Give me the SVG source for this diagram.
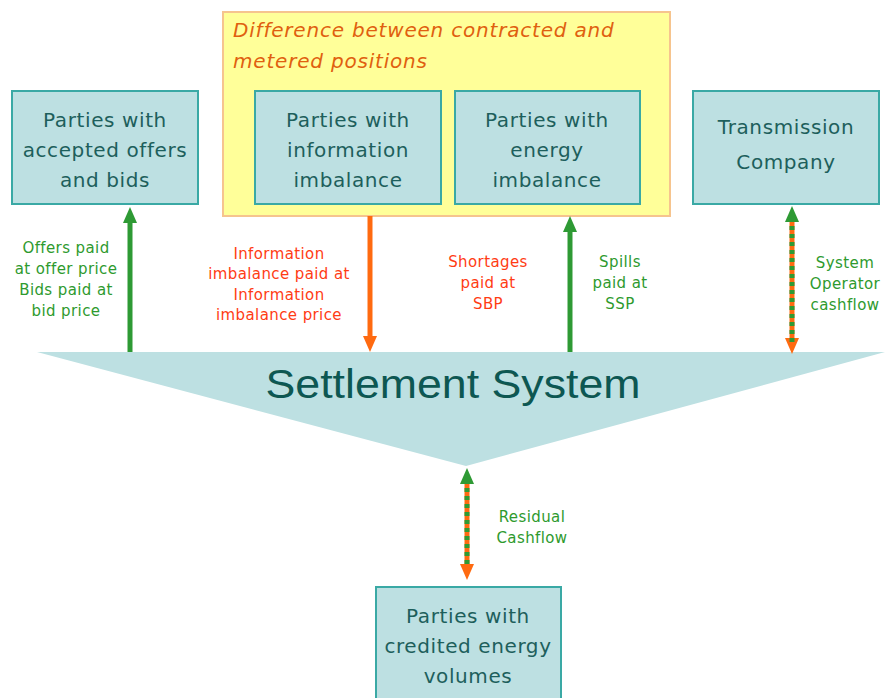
<svg xmlns="http://www.w3.org/2000/svg" width="885" height="698" viewBox="0 0 885 698">
  <style>
    .box { fill: #bde0e2; stroke: #3aa9a5; stroke-width: 2; }
    .btxt { font-family: "DejaVu Sans", Verdana, sans-serif; font-size: 20px; fill: #1d5f5c; text-anchor: middle; letter-spacing: 0.6px; }
    .lbl { font-family: "DejaVu Sans", Verdana, sans-serif; font-size: 15px; text-anchor: middle; letter-spacing: 0.4px; }
    .green { fill: #2e9a2e; }
    .red { fill: #ff3c14; }
    .lineG { stroke: #2e9a34; stroke-width: 5; fill: none; }
    .lineO { stroke: #ff6a10; stroke-width: 5; fill: none; }
    .dots { stroke: #2e9a34; stroke-width: 5; stroke-dasharray: 4 4; fill: none; }
  </style>
  <defs>
    <marker id="headG" viewBox="0 0 16 14" refX="5" refY="7" markerWidth="16" markerHeight="14" markerUnits="userSpaceOnUse" orient="auto-start-reverse">
      <path d="M0,0 L16,7 L0,14 z" fill="#2e9a34"/>
    </marker>
    <marker id="headO" viewBox="0 0 16 14" refX="5" refY="7" markerWidth="16" markerHeight="14" markerUnits="userSpaceOnUse" orient="auto-start-reverse">
      <path d="M0,0 L16,7 L0,14 z" fill="#ff6a10"/>
    </marker>
  </defs>

  <rect width="885" height="698" fill="#ffffff"/>

  <!-- contracted vs metered group -->
  <g id="difference-group">
    <rect x="223" y="12" width="447" height="204" fill="#ffff99" stroke="#f6c48e" stroke-width="2"/>
    <text font-family="'DejaVu Sans', Verdana, sans-serif" font-size="20" font-style="italic" fill="#e0600f" letter-spacing="0.8">
      <tspan x="233" y="37">Difference between contracted and</tspan>
      <tspan x="233" y="68">metered positions</tspan>
    </text>
  </g>

  <g id="accepted-offers">
    <rect class="box" x="12" y="91" width="186" height="113"/>
    <text class="btxt"><tspan x="105" y="127">Parties with</tspan><tspan x="105" y="157">accepted offers</tspan><tspan x="105" y="187">and bids</tspan></text>
  </g>

  <g id="information-imbalance">
    <rect class="box" x="255" y="91" width="186" height="113"/>
    <text class="btxt"><tspan x="348" y="127">Parties with</tspan><tspan x="348" y="157">information</tspan><tspan x="348" y="187">imbalance</tspan></text>
  </g>

  <g id="energy-imbalance">
    <rect class="box" x="455" y="91" width="185" height="113"/>
    <text class="btxt"><tspan x="547" y="127">Parties with</tspan><tspan x="547" y="157">energy</tspan><tspan x="547" y="187">imbalance</tspan></text>
  </g>

  <g id="transmission-company">
    <rect class="box" x="693" y="91" width="186" height="113"/>
    <text class="btxt"><tspan x="786" y="134">Transmission</tspan><tspan x="786" y="169">Company</tspan></text>
  </g>

  <g id="credited-volumes">
    <rect class="box" x="376" y="587" width="185" height="120"/>
    <text class="btxt"><tspan x="468" y="623">Parties with</tspan><tspan x="468" y="653">credited energy</tspan><tspan x="468" y="683">volumes</tspan></text>
  </g>

  <g id="settlement-system">
    <polygon points="37,352 885,352 466,466" fill="#bde0e2"/>
    <text x="453" y="398" font-family="'Liberation Sans', Arial, sans-serif" font-size="41" fill="#0d5752" text-anchor="middle" textLength="375" lengthAdjust="spacingAndGlyphs">Settlement System</text>
  </g>

  <g id="connectors">
    <line class="lineG" x1="130" y1="352" x2="130" y2="218" marker-end="url(#headG)"/>
    <line class="lineO" x1="370" y1="216" x2="370" y2="341" marker-end="url(#headO)"/>
    <line class="lineG" x1="570" y1="352" x2="570" y2="227" marker-end="url(#headG)"/>
    <line class="lineO" x1="792" y1="217" x2="792" y2="343" marker-start="url(#headG)" marker-end="url(#headO)"/>
    <line class="dots" x1="792" y1="218" x2="792" y2="342"/>
    <line class="lineO" x1="467" y1="479" x2="467" y2="569" marker-start="url(#headG)" marker-end="url(#headO)"/>
    <line class="dots" x1="467" y1="480" x2="467" y2="568"/>

    <text class="lbl green"><tspan x="66" y="253">Offers paid</tspan><tspan x="66" y="274">at offer price</tspan><tspan x="66" y="295">Bids paid at</tspan><tspan x="66" y="316">bid price</tspan></text>
    <text class="lbl red"><tspan x="279" y="259">Information</tspan><tspan x="279" y="279">imbalance paid at</tspan><tspan x="279" y="300">Information</tspan><tspan x="279" y="320">imbalance price</tspan></text>
    <text class="lbl red"><tspan x="488" y="267">Shortages</tspan><tspan x="488" y="288">paid at</tspan><tspan x="488" y="309">SBP</tspan></text>
    <text class="lbl green"><tspan x="620" y="267">Spills</tspan><tspan x="620" y="288">paid at</tspan><tspan x="620" y="309">SSP</tspan></text>
    <text class="lbl green"><tspan x="845" y="268">System</tspan><tspan x="845" y="289">Operator</tspan><tspan x="845" y="310">cashflow</tspan></text>
    <text class="lbl green"><tspan x="532" y="522">Residual</tspan><tspan x="532" y="543">Cashflow</tspan></text>
  </g>
</svg>
